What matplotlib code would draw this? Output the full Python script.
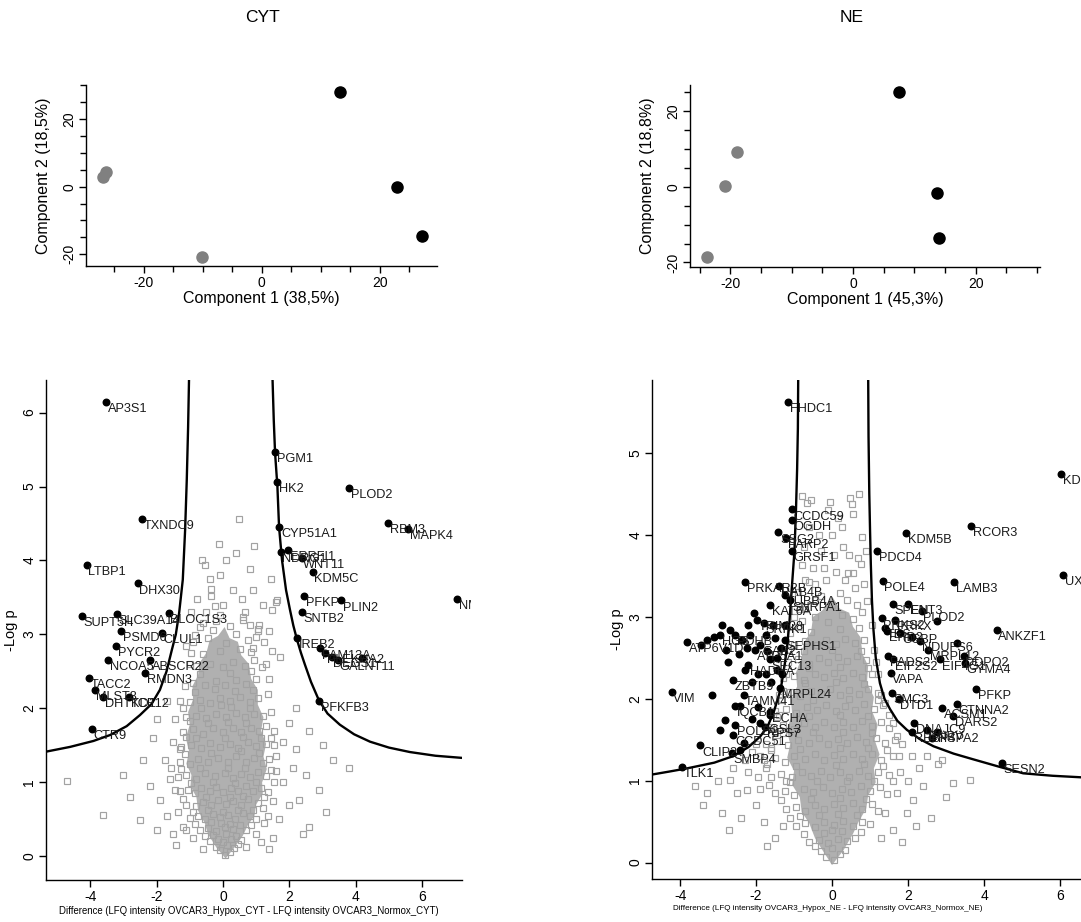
import matplotlib
matplotlib.use("Agg")
import matplotlib.pyplot as plt
from matplotlib.patches import Rectangle
from matplotlib.ticker import MultipleLocator

plt.rcParams['font.family'] = ['Liberation Sans', 'DejaVu Sans']
plt.rcParams['axes.linewidth'] = 1.0

# ---------------- PCA data ----------------
cyt_pca_grey_x = [-26.9, -26.4, -10.1]
cyt_pca_grey_y = [2.8, 4.4, -20.9]
cyt_pca_black_x = [13.2, 23.0, 27.1]
cyt_pca_black_y = [28.0, -0.1, -14.5]

ne_pca_grey_x = [-23.8, -20.9, -19.0]
ne_pca_grey_y = [-18.5, 0.3, 9.3]
ne_pca_black_x = [7.5, 13.7, 14.1]
ne_pca_black_y = [25.0, -1.7, -13.6]

# ---------------- CYT volcano data ----------------
cyt_grey = [
    (0.05, 0.02), (0.2, 0.06), (-0.1, 0.08), (0.32, 0.11), (-0.22, 0.13), (0.12, 0.15), (0.45, 0.17),
    (-0.4, 0.21), (-0.15, 0.23), (0.0, 0.2), (0.25, 0.24), (0.55, 0.22), (0.38, 0.28), (-0.3, 0.29), (0.1, 0.3), (-0.55, 0.27),
    (-0.7, 0.36), (-0.45, 0.38), (-0.2, 0.34), (0.05, 0.4), (0.3, 0.37), (0.5, 0.42), (0.7, 0.35), (-0.05, 0.45), (0.2, 0.44),
    (-0.35, 0.46), (0.85, 0.43), (-0.85, 0.44),
    (-1.0, 0.52), (-0.75, 0.55), (-0.55, 0.5), (-0.3, 0.57), (-0.1, 0.53), (0.15, 0.56), (0.35, 0.51), (0.6, 0.58), (0.8, 0.54),
    (1.0, 0.5), (-0.45, 0.62), (0.45, 0.63), (0.0, 0.6), (0.9, 0.62), (-0.9, 0.6),
    (-1.1, 0.7), (-0.8, 0.68), (-0.6, 0.74), (-0.35, 0.7), (-0.15, 0.76), (0.1, 0.71), (0.3, 0.75), (0.55, 0.7), (0.75, 0.77),
    (1.05, 0.72), (1.2, 0.66), (-1.2, 0.78), (-0.5, 0.8), (0.2, 0.8), (0.6, 0.82), (1.25, 0.8),
    (-1.3, 0.88), (-1.05, 0.9), (-0.85, 0.86), (-0.65, 0.92), (-0.4, 0.88), (-0.2, 0.94), (0.0, 0.87), (0.25, 0.92), (0.45, 0.88),
    (0.7, 0.95), (0.9, 0.89), (1.15, 0.93), (1.35, 0.87), (-0.95, 0.99), (-0.3, 1.0), (0.35, 0.99), (1.0, 1.0),
    (-1.35, 1.07), (-1.1, 1.1), (-0.8, 1.05), (-0.55, 1.12), (-0.25, 1.08), (0.05, 1.13), (0.3, 1.06), (0.55, 1.11), (0.8, 1.07),
    (1.05, 1.14), (1.3, 1.09), (-1.25, 1.18), (-0.7, 1.2), (0.15, 1.2), (0.65, 1.19), (1.45, 1.17),
    (-1.3, 1.28), (-1.0, 1.25), (-0.75, 1.32), (-0.45, 1.27), (-0.15, 1.33), (0.15, 1.28), (0.4, 1.35), (0.7, 1.27), (0.95, 1.33),
    (1.2, 1.26), (1.4, 1.32), (-1.15, 1.38), (-0.35, 1.4), (0.55, 1.42), (1.1, 1.4),
    (-1.25, 1.48), (-0.95, 1.5), (-0.65, 1.46), (-0.4, 1.53), (-0.1, 1.48), (0.2, 1.52), (0.45, 1.47), (0.75, 1.55), (1.0, 1.49),
    (1.3, 1.52), (-0.8, 1.6), (0.05, 1.6), (0.6, 1.62), (1.15, 1.6), (-1.1, 1.62),
    (-1.2, 1.68), (-0.9, 1.72), (-0.6, 1.66), (-0.3, 1.73), (0.0, 1.68), (0.3, 1.74), (0.55, 1.68), (0.85, 1.73), (1.1, 1.7),
    (1.3, 1.76), (-0.45, 1.8), (0.15, 1.82), (0.7, 1.8), (-1.0, 1.83),
    (-1.1, 1.88), (-0.8, 1.9), (-0.5, 1.87), (-0.2, 1.93), (0.1, 1.89), (0.4, 1.94), (0.65, 1.88), (0.95, 1.93), (1.2, 1.9),
    (-0.65, 2.0), (0.25, 2.02), (0.8, 2.0), (-0.05, 2.04),
    (-1.0, 2.08), (-0.7, 2.12), (-0.4, 2.07), (-0.1, 2.14), (0.2, 2.1), (0.5, 2.15), (0.8, 2.09), (1.05, 2.14), (-0.85, 2.22),
    (0.35, 2.24), (0.9, 2.25), (-0.25, 2.26),
    (-0.9, 2.34), (-0.55, 2.31), (-0.2, 2.37), (0.05, 2.32), (0.4, 2.38), (0.7, 2.33), (1.0, 2.4), (-0.7, 2.46), (0.2, 2.48), (0.85, 2.5),
    (-0.8, 2.58), (-0.4, 2.6), (0.0, 2.56), (0.3, 2.63), (0.65, 2.58), (0.95, 2.66), (-0.6, 2.74), (-0.1, 2.77), (0.5, 2.8), (0.85, 2.76),
    (-0.9, 2.9), (-0.45, 2.95), (0.1, 2.88), (0.4, 3.0), (0.75, 2.93), (1.05, 3.05), (-0.7, 3.1), (0.2, 3.12), (-0.2, 3.18), (0.6, 3.2),
    (0.49, 4.56), (-0.12, 4.22), (-0.64, 4.0), (-0.54, 3.94), (0.81, 3.89), (1.44, 3.75), (-0.36, 3.62), (-0.35, 3.52), (-0.79, 3.48),
    (0.56, 3.48), (-0.24, 3.38), (1.62, 3.46), (1.47, 3.33), (0.66, 3.31), (-0.09, 3.26), (0.61, 3.23), (0.81, 3.13), (1.06, 3.08),
    (-0.84, 2.99), (-0.29, 3.06), (1.6, 3.44), (1.0, 2.97), (1.1, 3.13), (0.91, 2.81), (1.47, 2.77), (1.72, 2.7), (1.17, 2.56),
    (-1.5, 0.3), (-1.7, 0.55), (-1.9, 0.76), (-2.5, 0.49), (-2.2, 0.95), (-1.6, 1.05), (-1.75, 1.3), (-1.5, 1.55), (-2.0, 0.35),
    (-3.6, 0.56), (-4.7, 1.02), (-1.4, 0.15), (-1.2, 0.4), (-2.8, 0.8), (-1.45, 1.85), (-1.3, 2.1),
    (1.5, 0.25), (1.7, 0.5), (2.0, 0.7), (2.3, 0.76), (2.9, 0.9), (1.8, 1.0), (2.1, 1.2), (1.6, 1.35), (1.8, 1.55), (2.5, 1.1),
    (1.4, 0.1), (1.25, 0.45), (2.6, 0.4), (1.55, 1.7), (1.45, 1.95), (1.35, 2.2), (3.3, 1.3), (2.2, 1.45),
    (-1.35, 0.6), (-1.45, 0.9), (-1.55, 1.2), (-1.3, 1.45), (-1.2, 2.0), (-1.15, 2.3), (-1.0, 2.6), (-0.95, 2.75), (-1.1, 2.85),
    (1.35, 0.55), (1.5, 0.75), (1.55, 1.0), (1.6, 1.15), (1.55, 1.5), (1.45, 1.6), (1.4, 2.4), (1.3, 2.6), (1.25, 2.9), (1.4, 3.05),
    (-0.6, 0.1), (0.7, 0.12), (-0.9, 0.25), (1.0, 0.3), (-1.1, 0.35), (1.15, 0.2),
    (-0.5, 3.3), (0.0, 3.4), (0.3, 3.6), (-0.1, 3.8), (0.1, 4.0), (0.4, 4.1), (-0.4, 3.75), (0.9, 3.6), (1.2, 3.4), (-0.95, 3.3),
    (-0.6, 3.15), (0.95, 4.2),
    (-2.1, 1.6), (-2.4, 1.3), (-3.0, 1.1), (-2.0, 1.85), (-1.7, 2.1),
    (2.0, 1.8), (2.2, 2.0), (2.6, 1.7), (3.0, 1.5), (3.8, 1.2), (2.4, 0.3), (3.1, 0.6),
]
# envelope of the saturated (solid grey) core of the CYT cloud
cyt_core_x = [0.08, -0.2, -0.45, -0.55, -0.75, -0.8, -0.98, -0.95, -1.1, -1.02, -1.12, -1.0, -1.05, -0.9, -0.92, -0.75,
              -0.7, -0.5, -0.4, -0.15, 0.05, 0.2, 0.45, 0.55, 0.78, 0.85, 1.05, 1.05, 1.22, 1.15, 1.3, 1.22, 1.32, 1.18,
              1.2, 1.0, 0.95, 0.75, 0.6, 0.35]
cyt_core_y = [-0.03, 0.12, 0.3, 0.45, 0.62, 0.8, 0.95, 1.1, 1.25, 1.42, 1.6, 1.78, 1.95, 2.12, 2.3, 2.45,
              2.62, 2.75, 2.92, 2.98, 3.1, 2.95, 2.9, 2.72, 2.6, 2.4, 2.25, 2.05, 1.88, 1.7, 1.52, 1.35, 1.18, 1.0,
              0.85, 0.7, 0.55, 0.42, 0.28, 0.12]

cyt_black = [
    ("AP3S1", -3.52, 6.14), ("TXNDC9", -2.44, 4.56), ("LTBP1", -4.11, 3.94), ("DHX30", -2.57, 3.69),
    ("SUPT5H", -4.24, 3.25), ("SLC39A14", -3.2, 3.28), ("BLOC1S3", -1.64, 3.29), ("PSMD6", -3.06, 3.05),
    ("CLUL1", -1.85, 3.02), ("PYCR2", -3.22, 2.84), ("NCOA5", -3.46, 2.66), ("ABSCR22", -2.2, 2.66),
    ("RMDN3", -2.35, 2.48), ("TACC2", -4.04, 2.41), ("MLST8", -3.86, 2.25), ("DHTKD1", -3.61, 2.16),
    ("TCF12", -2.83, 2.16), ("CTR9", -3.95, 1.72),
    ("PGM1", 1.57, 5.47), ("HK2", 1.64, 5.06), ("PLOD2", 3.8, 4.98), ("RBM3", 4.98, 4.51), ("MAPK4", 5.58, 4.43),
    ("CYP51A1", 1.7, 4.45), ("NDRG1", 1.74, 4.12), ("ERRFI1", 1.97, 4.14), ("WNT11", 2.37, 4.03),
    ("KDM5C", 2.7, 3.85), ("PFKP", 2.44, 3.52), ("PLIN2", 3.57, 3.46), ("NMRAL1", 7.05, 3.48),
    ("SNTB2", 2.37, 3.31), ("IREB2", 2.23, 2.95), ("FAM13A", 2.92, 2.81), ("PLEKHA2", 3.07, 2.75),
    ("DEGS1", 3.27, 2.7), ("GALNT11", 3.47, 2.66), ("", 4.18, 2.68), ("PFKFB3", 2.89, 2.1),
]

cyt_curve_left_x = [-1.02, -1.05, -1.09, -1.14, -1.21, -1.32, -1.42, -1.54, -1.7, -1.9, -2.15, -2.5, -2.9, -3.4, -3.9, -4.6, -5.5]
cyt_curve_left_y = [6.5, 5.8, 5.09, 4.41, 3.74, 3.29, 3.0, 2.79, 2.5, 2.25, 2.06, 1.91, 1.76, 1.64, 1.56, 1.48, 1.4]
cyt_curve_right_x = [1.49, 1.53, 1.57, 1.64, 1.69, 1.78, 1.9, 2.02, 2.12, 2.23, 2.35, 2.47, 2.65, 2.89, 3.15, 3.52, 3.95, 4.43, 5.0, 5.63, 6.4, 7.5]
cyt_curve_right_y = [6.5, 5.9, 5.45, 5.0, 4.45, 4.0, 3.6, 3.33, 3.12, 2.93, 2.75, 2.59, 2.36, 2.11, 1.93, 1.78, 1.65, 1.55, 1.47, 1.41, 1.36, 1.32]

# ---------------- NE volcano data ----------------
ne_grey = [
    (0.05, 0.03), (-0.15, 0.07), (0.2, 0.1), (-0.3, 0.14), (0.35, 0.16), (0.0, 0.18), (-0.45, 0.2),
    (-0.6, 0.25), (-0.35, 0.27), (-0.1, 0.24), (0.15, 0.29), (0.4, 0.26), (0.6, 0.3), (-0.75, 0.35), (-0.2, 0.36), (0.25, 0.38),
    (0.75, 0.37), (0.0, 0.4),
    (-0.95, 0.45), (-0.7, 0.48), (-0.45, 0.43), (-0.2, 0.5), (0.05, 0.46), (0.3, 0.51), (0.55, 0.45), (0.8, 0.5), (1.0, 0.47),
    (-0.85, 0.57), (-0.35, 0.58), (0.15, 0.59), (0.65, 0.58), (-1.1, 0.55),
    (-1.2, 0.65), (-0.95, 0.68), (-0.7, 0.63), (-0.45, 0.7), (-0.2, 0.66), (0.05, 0.72), (0.3, 0.67), (0.55, 0.73), (0.8, 0.66),
    (1.05, 0.71), (-1.35, 0.76), (-0.55, 0.78), (0.2, 0.79), (0.9, 0.78), (1.2, 0.63),
    (-1.5, 0.85), (-1.25, 0.88), (-1.0, 0.83), (-0.75, 0.9), (-0.5, 0.86), (-0.25, 0.92), (0.0, 0.85), (0.25, 0.9), (0.5, 0.86),
    (0.75, 0.93), (1.0, 0.87), (1.25, 0.92), (1.45, 0.84), (-1.1, 0.98), (-0.4, 0.99), (0.4, 1.0), (1.1, 1.0),
    (-1.6, 1.05), (-1.35, 1.08), (-1.05, 1.04), (-0.8, 1.1), (-0.55, 1.06), (-0.3, 1.12), (-0.05, 1.05), (0.2, 1.1), (0.45, 1.05),
    (0.7, 1.12), (0.95, 1.06), (1.2, 1.11), (1.5, 1.07), (-1.75, 1.15), (-0.95, 1.18), (0.1, 1.19), (0.85, 1.2), (1.35, 1.18),
    (-1.8, 1.25), (-1.5, 1.28), (-1.25, 1.23), (-1.0, 1.3), (-0.7, 1.26), (-0.45, 1.32), (-0.2, 1.25), (0.05, 1.31), (0.3, 1.26),
    (0.55, 1.33), (0.8, 1.27), (1.05, 1.32), (1.3, 1.25), (1.6, 1.3), (-1.6, 1.38), (-0.85, 1.39), (0.2, 1.4), (0.95, 1.4), (1.45, 1.38),
    (-1.75, 1.45), (-1.45, 1.48), (-1.15, 1.43), (-0.9, 1.5), (-0.6, 1.46), (-0.35, 1.52), (-0.1, 1.45), (0.15, 1.51), (0.4, 1.46),
    (0.65, 1.53), (0.9, 1.47), (1.15, 1.52), (1.4, 1.46), (1.65, 1.5), (-1.3, 1.58), (-0.5, 1.59), (0.3, 1.6), (1.05, 1.58),
    (-1.6, 1.65), (-1.3, 1.68), (-1.0, 1.63), (-0.75, 1.7), (-0.45, 1.66), (-0.2, 1.72), (0.05, 1.65), (0.3, 1.71), (0.55, 1.66),
    (0.8, 1.73), (1.05, 1.67), (1.3, 1.72), (1.5, 1.64), (-1.45, 1.78), (-0.6, 1.79), (0.2, 1.8), (0.95, 1.79),
    (-1.5, 1.85), (-1.2, 1.88), (-0.95, 1.83), (-0.65, 1.9), (-0.4, 1.86), (-0.15, 1.92), (0.1, 1.85), (0.35, 1.91), (0.6, 1.86),
    (0.85, 1.93), (1.1, 1.87), (1.35, 1.92), (-1.35, 1.98), (-0.5, 1.99), (0.45, 2.0), (1.2, 1.98),
    (-1.4, 2.05), (-1.1, 2.08), (-0.85, 2.03), (-0.55, 2.1), (-0.3, 2.06), (-0.05, 2.12), (0.2, 2.05), (0.45, 2.11), (0.7, 2.06),
    (0.95, 2.12), (1.2, 2.07), (-0.7, 2.19), (0.1, 2.2), (0.85, 2.18),
    (-1.3, 2.25), (-1.0, 2.28), (-0.75, 2.23), (-0.45, 2.3), (-0.2, 2.26), (0.05, 2.32), (0.3, 2.25), (0.55, 2.31), (0.8, 2.26),
    (1.05, 2.3), (-0.6, 2.38), (0.2, 2.39), (0.95, 2.38),
    (-1.15, 2.45), (-0.9, 2.48), (-0.6, 2.43), (-0.35, 2.5), (-0.1, 2.45), (0.15, 2.51), (0.4, 2.46), (0.65, 2.52), (0.9, 2.47),
    (-0.75, 2.58), (0.0, 2.6), (0.75, 2.58),
    (-1.0, 2.66), (-0.7, 2.7), (-0.4, 2.65), (-0.15, 2.72), (0.1, 2.67), (0.35, 2.73), (0.6, 2.68), (0.85, 2.72), (-0.55, 2.82),
    (0.2, 2.85), (0.7, 2.86), (-0.9, 2.88),
    (-0.8, 2.95), (-0.45, 3.0), (-0.1, 2.94), (0.25, 3.02), (0.55, 2.97), (0.91, 3.19), (0.78, 3.06), (-0.7, 3.1), (0.0, 3.15),
    (0.4, 3.2), (-0.3, 3.25), (0.21, 3.29),
    (-0.8, 4.47), (-0.65, 4.39), (-0.55, 4.42), (0.47, 4.45), (0.52, 4.38), (0.78, 3.98), (0.69, 3.72), (0.56, 3.53), (0.43, 3.54),
    (-0.8, 3.63), (-0.71, 3.45), (-0.6, 3.42), (-0.45, 3.4), (-0.2, 3.6), (0.05, 3.75), (0.3, 3.85), (-0.35, 4.0), (0.15, 4.2),
    (-0.1, 4.3), (0.6, 3.35), (0.85, 3.4), (-0.9, 3.3),
    (-3.6, 0.93), (-3.3, 0.85), (-2.68, 1.01), (-2.25, 0.89), (-2.5, 0.85), (-2.0, 0.7), (-1.8, 0.5), (-2.9, 0.6), (-1.5, 0.3),
    (-2.2, 1.1), (-1.9, 1.3), (-1.3, 0.45), (-2.4, 0.55), (-1.95, 1.05), (-2.1, 1.35), (-1.65, 0.95),
    (2.1, 1.3), (2.4, 0.93), (3.19, 0.97), (3.63, 1.01), (2.14, 0.77), (1.97, 0.6), (1.7, 0.85), (1.8, 1.1), (1.6, 0.4),
    (2.6, 0.55), (1.85, 1.45), (1.6, 1.7), (1.4, 1.95), (1.2, 2.3), (1.1, 2.6), (2.8, 1.2), (1.3, 0.3), (2.3, 1.15),
    (-1.9, 0.9), (-1.7, 1.2), (-1.6, 1.4), (-1.5, 1.6), (-1.4, 1.8), (-1.3, 2.1), (-1.2, 2.3), (-1.15, 2.6), (-1.1, 2.8),
    (-1.0, 3.0), (-1.2, 1.0), (-2.3, 1.25), (-2.0, 1.45), (-2.6, 1.15), (-3.0, 1.0), (-3.4, 0.7), (-2.7, 0.4), (-1.7, 0.2),
    (1.4, 0.6), (1.6, 1.0), (1.75, 1.3), (1.7, 1.55), (1.5, 1.8), (1.3, 2.05), (1.15, 2.45), (1.05, 2.9), (2.0, 1.0),
    (2.5, 1.3), (3.0, 0.8), (2.2, 0.45), (1.85, 0.25), (2.9, 1.25),
    (-0.5, 3.6), (-0.3, 3.8), (0.0, 4.0), (0.25, 4.1), (-0.6, 4.1), (0.55, 4.25), (0.7, 4.5), (-0.75, 3.85), (0.35, 3.45),
    (-0.15, 3.45), (0.75, 3.65), (0.1, 3.55), (-0.45, 3.2), (0.65, 3.15), (0.45, 3.75), (-0.85, 3.1), (0.9, 3.8), (-0.05, 4.4),
]
# envelope of the saturated (solid grey) core of the NE cloud
ne_core_x = [0.0, -0.25, -0.45, -0.6, -0.8, -0.85, -1.05, -1.0, -1.18, -1.1, -1.2, -1.05, -1.08, -0.92, -0.95, -0.8,
             -0.75, -0.55, -0.5, -0.25, 0.0, 0.2, 0.45, 0.55, 0.75, 0.8, 0.95, 0.92, 1.1, 1.05, 1.2, 1.12, 1.25, 1.1,
             1.15, 0.95, 0.9, 0.7, 0.55, 0.3]
ne_core_y = [-0.03, 0.15, 0.3, 0.48, 0.62, 0.8, 0.95, 1.12, 1.28, 1.45, 1.62, 1.8, 1.98, 2.15, 2.32, 2.5,
             2.68, 2.82, 3.0, 3.08, 3.25, 3.1, 3.05, 2.88, 2.75, 2.55, 2.4, 2.2, 2.02, 1.85, 1.68, 1.5, 1.32, 1.15,
             0.98, 0.82, 0.66, 0.5, 0.35, 0.15]

ne_black = [
    ("FHDC1", -1.16, 5.62), ("CCDC59", -1.06, 4.31), ("OGDH", -1.06, 4.18), ("SSG2", -1.41, 4.03),
    ("PARP2", -1.21, 3.96), ("GRSF1", -1.06, 3.80), ("PRKAR2B", -2.29, 3.43), ("RAB4B", -1.39, 3.38),
    ("TUBB4A", -1.24, 3.27), ("SNRPA1", -1.1, 3.2), ("KAT6A", -1.63, 3.15), ("TRIM28", -1.98, 2.96),
    ("SRPK1", -1.8, 2.92), ("ATP6V1D", -3.82, 2.69), ("HGS", -2.95, 2.78), ("", -2.68, 2.84),
    ("PDHB", -2.55, 2.78), ("", -2.37, 2.72), ("GAB2", -1.89, 2.66), ("", -1.5, 2.74), ("", -1.24, 2.9),
    ("SEPHS1", -1.25, 2.72), ("HADHA", -2.2, 2.41), ("ATP5A1", -2.03, 2.6), ("SEC13", -1.63, 2.48),
    ("ZBTB9", -2.6, 2.23), ("TAMM41", -2.33, 2.05), ("MRPL24", -1.37, 2.13), ("IQCB1", -2.55, 1.91),
    ("", -2.42, 1.91), ("ECHA", -1.63, 1.84), ("POLD2", -2.55, 1.68), ("RPS7", -1.76, 1.66),
    ("CCDC51", -2.6, 1.56), ("", -2.33, 1.46), ("SMBP4", -2.64, 1.34), ("", -2.42, 1.38),
    ("ACSL3", -1.89, 1.7), ("", -1.63, 1.8), ("", -1.32, 2.3), ("VIM", -4.22, 2.08), ("TLK1", -3.96, 1.17),
    ("CLIP2", -3.47, 1.43), ("", -2.82, 1.74), ("", -2.95, 1.62), ("", -3.16, 2.05), ("", -2.79, 2.6),
    ("", -2.2, 2.9), ("", -2.05, 3.05), ("", -1.75, 2.3), ("", -2.1, 2.2), ("", -1.95, 1.9), ("", -2.1, 1.75),
    ("", -3.1, 2.75), ("", -2.9, 2.9), ("", -2.45, 2.55), ("", -2.25, 2.62), ("", -1.7, 2.58), ("", -1.45, 2.5),
    ("", -1.35, 2.62), ("", -1.55, 2.9), ("", -1.75, 2.78), ("", -2.15, 2.78), ("", -2.3, 2.35), ("", -1.95, 2.3),
    ("", -1.6, 2.2), ("", -1.45, 2.35), ("", -2.75, 2.45), ("", -3.3, 2.72), ("", -3.45, 2.65),
    ("KDM3A", 6.03, 4.74), ("RCOR3", 3.66, 4.11), ("KDM5B", 1.95, 4.02), ("PDCD4", 1.18, 3.80),
    ("UXS1", 6.09, 3.51), ("POLE4", 1.33, 3.44), ("LAMB3", 3.21, 3.42), ("SPEN", 1.6, 3.16),
    ("ENT3", 2.01, 3.16), ("PLOD2", 2.36, 3.07), ("PRKS2", 1.31, 2.98), ("PRKX", 1.66, 2.96),
    ("TES", 1.39, 2.86), ("EHD2", 1.45, 2.83), ("OSBP", 1.8, 2.8), ("NDUFS6", 2.32, 2.7), ("MRPL12", 2.53, 2.6),
    ("", 3.28, 2.68), ("DDPO2", 3.46, 2.52), ("FADS2", 1.48, 2.52), ("EIF2S2", 1.61, 2.48),
    ("EIF4G1", 2.84, 2.48), ("GYMA4", 3.5, 2.44), ("VAPA", 1.54, 2.32), ("SMC3", 1.57, 2.07),
    ("DTD1", 1.75, 2.0), ("PFKP", 3.79, 2.12), ("ANKZF1", 4.33, 2.84), ("ACSM1", 2.89, 1.89),
    ("CTNNA2", 3.28, 1.94), ("DARS2", 3.19, 1.79), ("DNAJC9", 2.16, 1.70), ("RBBP4", 2.1, 1.6),
    ("HSPA2", 2.75, 1.6), ("ENPV", 2.5, 1.62), ("", 2.62, 1.52), ("SESN2", 4.47, 1.22),
    ("", 2.75, 2.95), ("", 2.1, 2.75),
]

ne_curve_left_x = [-0.89, -0.90, -0.92, -0.95, -0.99, -1.06, -1.12, -1.18, -1.24, -1.35, -1.54, -1.7, -1.89, -2.2, -2.6, -3.1, -3.82, -4.3, -4.8]
ne_curve_left_y = [6.0, 5.3, 4.8, 4.3, 3.8, 3.35, 2.95, 2.65, 2.44, 2.12, 1.83, 1.66, 1.54, 1.41, 1.3, 1.22, 1.15, 1.11, 1.07]
ne_curve_right_x = [0.95, 0.96, 0.98, 1.00, 1.02, 1.05, 1.09, 1.15, 1.26, 1.38, 1.53, 1.72, 1.97, 2.3, 2.67, 3.2, 3.72, 4.4, 5.03, 5.8, 7.0]
ne_curve_right_y = [6.0, 5.2, 4.5, 4.05, 3.65, 3.2, 2.84, 2.5, 2.19, 2.0, 1.87, 1.73, 1.62, 1.51, 1.42, 1.33, 1.26, 1.17, 1.09, 1.06, 1.03]

titles = ["CYT", "NE"]
pca_xlabels = ["Component 1 (38,5%)", "Component 1 (45,3%)"]
pca_ylabels = ["Component 2 (18,5%)", "Component 2 (18,8%)"]
volcano_xlabels = [
    "Difference (LFQ intensity OVCAR3_Hypox_CYT - LFQ intensity OVCAR3_Normox_CYT)",
    "Difference (LFQ intensity OVCAR3_Hypox_NE - LFQ intensity OVCAR3_Normox_NE)",
]

# ---------------- figure ----------------
W, H = 1081, 922
fig = plt.figure(figsize=(W / 100, H / 100), dpi=100)


def ax_px(x0, y0, x1, y1):
    return fig.add_axes([x0 / W, 1 - y1 / H, (x1 - x0) / W, (y1 - y0) / H])


def style(ax):
    for s in ("top", "right"):
        ax.spines[s].set_visible(False)
    ax.tick_params(direction="out", length=5, width=1, labelsize=10, pad=2, color="black")


def rot_y(ax):
    for lab in ax.get_yticklabels():
        lab.set_rotation(90)
        lab.set_va("center")


def pca(ax, gx, gy, bx, by, xlim, ylim, xlabel, ylabel):
    style(ax)
    ax.plot(gx, gy, "o", ms=8, color="#808080", ls="none")
    ax.plot(bx, by, "o", ms=8, color="black", ls="none")
    ax.set_xlim(*xlim)
    ax.set_ylim(*ylim)
    ax.set_xticks([-20, 0, 20], labels=["-20", "0", "20"])
    ax.set_yticks([-20, 0, 20], labels=["-20", "0", "20"])
    ax.xaxis.set_minor_locator(MultipleLocator(5))
    ax.yaxis.set_minor_locator(MultipleLocator(5))
    ax.tick_params(which="minor", direction="out", length=4, width=1)
    rot_y(ax)
    ax.set_xlabel(xlabel, fontsize=11.5, labelpad=1)
    ax.set_ylabel(ylabel, fontsize=11.5, labelpad=8)


def volcano(ax, grey, core_x, core_y, black, clx, cly, crx, cry, xlim, ylim,
            xlabel, xlabel_pos, xlabel_size, clip_right):
    style(ax)
    ax.fill(core_x, core_y, color="#b0b0b0", lw=0, zorder=0.5)
    gx = [p[0] for p in grey]
    gy = [p[1] for p in grey]
    ax.plot(gx, gy, "s", ms=4.4, mfc="none", mec="#a2a2a2", mew=0.85, ls="none", zorder=1)
    ax.plot(clx, cly, "-", color="black", lw=1.7, zorder=2)
    ax.plot(crx, cry, "-", color="black", lw=1.7, zorder=2)
    bx = [b[1] for b in black]
    by = [b[2] for b in black]
    ax.plot(bx, by, "o", ms=4.7, color="black", ls="none", zorder=3)
    clip = Rectangle((0, 0), clip_right, 1, transform=ax.transAxes, fill=False, visible=False)
    ax.add_patch(clip)
    for name, x, y in black:
        if not name:
            continue
        t = ax.annotate(name, (x, y), xytext=(1.2, -0.8), textcoords="offset points",
                        ha="left", va="top", fontsize=9.2, color="#1a1a1a", zorder=4,
                        annotation_clip=False)
        t.set_clip_path(clip)
    ax.set_xlim(*xlim)
    ax.set_ylim(*ylim)
    ax.set_xticks([-4, -2, 0, 2, 4, 6], labels=["-4", "-2", "0", "2", "4", "6"])
    yt = [t for t in range(0, 7) if ylim[0] <= t <= ylim[1]]
    ax.set_yticks(yt, labels=[str(t) for t in yt])
    rot_y(ax)
    ax.set_xlabel(xlabel, fontsize=xlabel_size)
    ax.xaxis.set_label_coords(xlabel_pos, -0.052)
    ax.set_ylabel("-Log p", fontsize=10.5, labelpad=3)


# PCA panels
ax1 = ax_px(86, 85, 437, 266)
pca(ax1, cyt_pca_grey_x, cyt_pca_grey_y, cyt_pca_black_x, cyt_pca_black_y,
    (-29.8, 29.7), (-23.5, 30.1), pca_xlabels[0], pca_ylabels[0])
ax2 = ax_px(690, 85, 1040, 267)
pca(ax2, ne_pca_grey_x, ne_pca_grey_y, ne_pca_black_x, ne_pca_black_y,
    (-26.6, 30.5), (-21.2, 26.9), pca_xlabels[1], pca_ylabels[1])

fig.text(262 / W, 1 - 18 / H, titles[0], ha="center", va="center", fontsize=12.5)
fig.text(852 / W, 1 - 18 / H, titles[1], ha="center", va="center", fontsize=12.5)

# Volcano panels
ax3 = ax_px(46, 380, 462, 880)
volcano(ax3, cyt_grey, cyt_core_x, cyt_core_y, cyt_black, cyt_curve_left_x, cyt_curve_left_y,
        cyt_curve_right_x, cyt_curve_right_y, (-5.33, 7.2), (-0.32, 6.44),
        volcano_xlabels[0], 0.488, 6.9, 1.022)
ax4 = ax_px(652, 380, 1090, 879)
volcano(ax4, ne_grey, ne_core_x, ne_core_y, ne_black, ne_curve_left_x, ne_curve_left_y,
        ne_curve_right_x, ne_curve_right_y, (-4.74, 6.79), (-0.2, 5.89),
        volcano_xlabels[1], 0.402, 5.9, 1.2)

fig.savefig("out.png", dpi=100)
